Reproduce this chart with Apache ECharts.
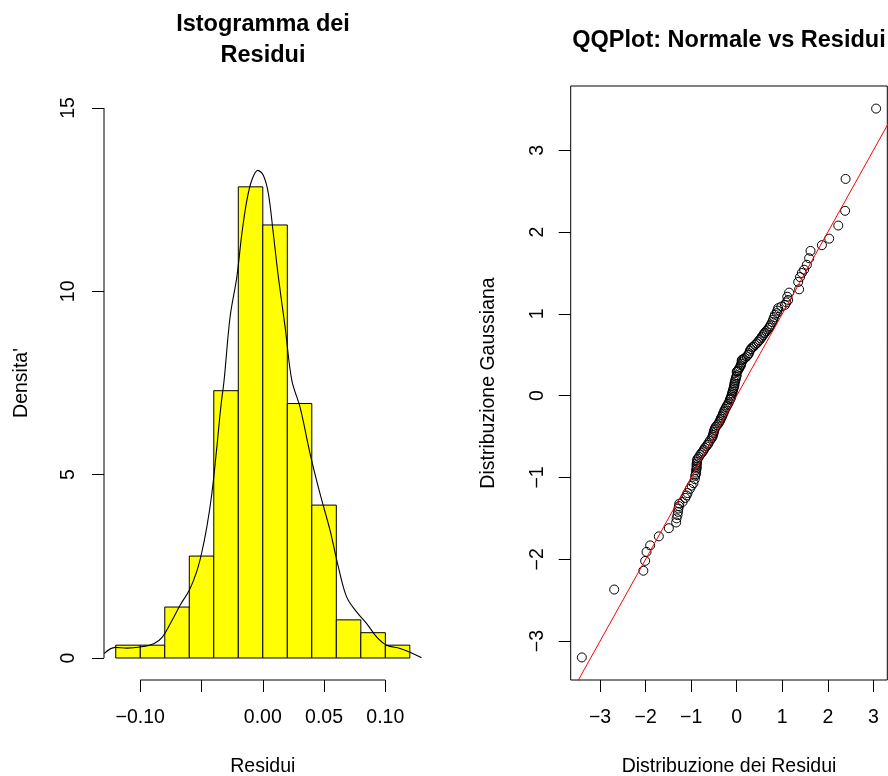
<!DOCTYPE html>
<html><head><meta charset="utf-8">
<script src="https://cdn.jsdelivr.net/npm/echarts@6/dist/echarts.min.js"></script>
<style>html,body{margin:0;padding:0;background:#fff}#c{width:888px;height:776px}</style>
</head><body><div id="c"></div>
<script>
// ---- Histogram data (density scale) ----
const binStarts = [-0.12,-0.10,-0.08,-0.06,-0.04,-0.02,0.00,0.02,0.04,0.06,0.08,0.10];
const binWidth = 0.02;
const densities = [0.35,0.35,1.39,2.78,7.29,12.85,11.81,6.94,4.17,1.04,0.69,0.35];
// kernel density curve
const curveX = [-0.1296,-0.1205,-0.111,-0.100,-0.089,-0.082,-0.074,-0.0675,-0.060,-0.054,-0.050,-0.0457,-0.0416,-0.0375,-0.0343,-0.0316,-0.0267,-0.0212,-0.0171,-0.0130,-0.0090,-0.0041,0.0005,0.0046,0.0086,0.0127,0.0182,0.0237,0.0304,0.0386,0.0467,0.0549,0.0617,0.0685,0.0767,0.0848,0.093,0.1011,0.112,0.120,0.1296];
const curveY = [0.12,0.29,0.27,0.30,0.39,0.57,1.03,1.44,1.85,2.35,2.85,3.57,4.48,5.75,6.84,7.57,9.30,10.39,11.57,12.48,13.03,13.30,13.16,12.66,11.57,10.39,9.03,7.57,6.84,5.57,4.48,3.48,2.48,1.66,1.25,0.94,0.57,0.35,0.26,0.16,0.01];
const histXTicks = [-0.10,-0.05,0.00,0.05,0.10];
const histXLabels = [-0.10,0.00,0.05,0.10];
const histYTicks = [0,5,10,15];
const histXMin = -0.1296, histXMax = 0.1296, histYMin = -0.6, histYMax = 15.6;

// ---- QQ plot data ----
const qqResidui = [-3.40,-2.69,-2.05,-2.01,-1.98,-1.90,-1.71,-1.49,-1.33,-1.32,
 -1.30,-1.29,-1.28,-1.27,-1.26,-1.19,-1.13,-1.10,-1.08,-1.03,-0.99,-0.95,-0.92,
 -0.91,-0.90,-0.89,-0.89,-0.88,-0.88,-0.88,-0.88,-0.87,-0.87,-0.86,-0.83,-0.80,-0.77,-0.74,-0.72,-0.70,-0.67,-0.64,-0.62,-0.59,-0.55,
 -0.53,-0.52,-0.51,-0.50,-0.49,-0.48,-0.46,-0.43,-0.40,-0.38,-0.36,-0.35,-0.33,-0.31,-0.30,-0.28,-0.27,-0.25,-0.23,-0.21,-0.19,-0.17,-0.15,-0.14,-0.13,-0.12,-0.11,
 -0.10,-0.09,-0.08,-0.07,-0.06,-0.05,-0.05,-0.04,-0.03,-0.02,-0.01,0.00,0.00,0.01,0.03,0.05,0.07,0.09,0.10,0.11,0.11,0.12,0.15,0.18,0.22,0.25,0.27,
 0.29,0.31,0.34,0.37,0.40,0.44,0.47,0.50,0.53,0.55,0.58,0.60,0.62,0.65,0.68,0.71,0.73,0.75,0.78,0.80,0.82,0.84,
 0.88,0.89,0.91,0.98,1.06,1.09,1.13,1.11,1.15,1.37,1.35,1.39,1.43,
 1.48,1.54,1.59,1.62,1.87,2.03,
 2.23,2.38,2.39,3.06];
const qqGauss = [-3.20,-2.37,-2.14,-2.02,-1.91,-1.83,-1.72,-1.62,-1.55,-1.50,
 -1.46,-1.42,-1.38,-1.35,-1.32,-1.30,-1.25,-1.22,-1.19,-1.14,-1.10,-1.07,-1.02,
 -0.98,-0.96,-0.94,-0.91,-0.89,-0.87,-0.85,-0.83,-0.81,-0.79,-0.77,-0.75,-0.72,-0.70,-0.68,-0.66,-0.64,-0.62,-0.60,-0.58,-0.55,-0.52,
 -0.50,-0.48,-0.46,-0.44,-0.42,-0.40,-0.38,-0.36,-0.34,-0.32,-0.30,-0.28,-0.26,-0.24,-0.22,-0.20,-0.18,-0.16,-0.14,-0.12,-0.10,-0.08,-0.05,-0.04,-0.03,-0.01,0.01,
 0.03,0.05,0.07,0.09,0.11,0.13,0.15,0.17,0.19,0.21,0.23,0.25,0.29,0.30,0.31,0.33,0.35,0.37,0.39,0.41,0.43,0.44,0.45,0.46,0.48,0.50,0.52,
 0.55,0.57,0.59,0.60,0.62,0.64,0.66,0.68,0.70,0.72,0.74,0.76,0.77,0.79,0.81,0.83,0.85,0.87,0.90,0.93,0.96,0.99,
 1.01,1.04,1.07,1.09,1.11,1.14,1.17,1.21,1.26,1.30,1.39,1.45,1.50,
 1.54,1.60,1.68,1.77,1.84,1.92,
 2.08,2.26,2.65,3.51];
const qqTicks = [-3,-2,-1,0,1,2,3];
const qqLineIntercept = 0.0, qqLineSlope = 1.0;
const qqXMin = -3.645, qqXMax = 3.306, qqYMin = -3.476, qqYMax = 3.786;

const FONT = "'Liberation Sans', Arial, Helvetica, sans-serif";
const minus = v => String(v).replace('-', '\u2212');
const fmt2 = v => minus(Number(v).toFixed(2));

const chart = echarts.init(document.getElementById('c'), null, {renderer: 'canvas'});
const lbl = {color: '#000', fontSize: 19.5, fontFamily: FONT};
const titleStyle = t => ({text: t, textAlign: 'center', textVerticalAlign: 'middle', fontSize: 23.5, fontWeight: 'bold', fontFamily: FONT, fill: '#000'});
const noLine = {show: false, onZero: false};
const tick = vals => ({show: true, customValues: vals, length: 12, lineStyle: {color: '#000', width: 1}});

const option = {
  animation: false,
  backgroundColor: '#fff',
  graphic: [
    {type: 'text', x: 263, y: 25, style: titleStyle('Istogramma dei')},
    {type: 'text', x: 263, y: 56, style: titleStyle('Residui')},
    {type: 'text', x: 729, y: 41, style: titleStyle('QQPlot: Normale vs Residui')}
  ],
  grid: [
    {left: 104, top: 86, width: 317.6, height: 594, outerBoundsMode: 'none', containLabel: false},
    {left: 570.7, top: 86, width: 316.6, height: 594, outerBoundsMode: 'none', containLabel: false,
     show: true, borderColor: '#000', borderWidth: 1, backgroundColor: 'transparent'}
  ],
  xAxis: [
    {type: 'value', gridIndex: 0, min: histXMin, max: histXMax,
     axisLine: noLine, splitLine: {show: false}, axisTick: tick(histXTicks),
     axisLabel: Object.assign({customValues: histXLabels, margin: 28, formatter: fmt2}, lbl),
     name: 'Residui', nameLocation: 'middle', nameGap: 77, nameTextStyle: lbl},
    {type: 'value', gridIndex: 1, min: qqXMin, max: qqXMax,
     axisLine: noLine, splitLine: {show: false}, axisTick: tick(qqTicks),
     axisLabel: Object.assign({customValues: qqTicks, margin: 28, formatter: minus}, lbl),
     name: 'Distribuzione dei Residui', nameLocation: 'middle', nameGap: 77, nameTextStyle: lbl}
  ],
  yAxis: [
    {type: 'value', gridIndex: 0, min: histYMin, max: histYMax,
     axisLine: noLine, splitLine: {show: false}, axisTick: tick(histYTicks),
     axisLabel: Object.assign({customValues: histYTicks, margin: 25, rotate: 90}, lbl),
     name: "Densita'", nameLocation: 'middle', nameGap: 72, nameTextStyle: lbl},
    {type: 'value', gridIndex: 1, min: qqYMin, max: qqYMax,
     axisLine: noLine, splitLine: {show: false}, axisTick: tick(qqTicks),
     axisLabel: Object.assign({customValues: qqTicks, margin: 23, rotate: 90, formatter: minus}, lbl),
     name: 'Distribuzione Gaussiana', nameLocation: 'middle', nameGap: 72, nameTextStyle: lbl}
  ],
  series: [
    {type: 'custom', xAxisIndex: 0, yAxisIndex: 0, clip: false,
     data: binStarts.map((s, i) => [s, s + binWidth, densities[i]]),
     encode: {x: [0, 1], y: 2},
     renderItem: function (params, api) {
       const p0 = api.coord([api.value(0), 0]);
       const p1 = api.coord([api.value(1), api.value(2)]);
       return {type: 'rect', shape: {x: p0[0], y: p1[1], width: p1[0] - p0[0], height: p0[1] - p1[1]},
               style: {fill: '#ffff00', stroke: '#000', lineWidth: 1}};
     }},
    {type: 'line', xAxisIndex: 0, yAxisIndex: 0, data: curveX.map((x, i) => [x, curveY[i]]),
     smooth: 0.35, showSymbol: false, symbol: 'none', lineStyle: {color: '#000', width: 1.1}, silent: true},
    // R-style axis lines spanning only the tick range
    {type: 'line', xAxisIndex: 0, yAxisIndex: 0, clip: false, symbol: 'none', silent: true,
     data: [[histXTicks[0], histYMin], [histXTicks[histXTicks.length - 1], histYMin]], lineStyle: {color: '#000', width: 1}},
    {type: 'line', xAxisIndex: 0, yAxisIndex: 0, clip: false, symbol: 'none', silent: true,
     data: [[histXMin, histYTicks[0]], [histXMin, histYTicks[histYTicks.length - 1]]], lineStyle: {color: '#000', width: 1}},
    {type: 'scatter', xAxisIndex: 1, yAxisIndex: 1, symbol: 'circle', symbolSize: 9, silent: true,
     data: qqResidui.map((x, i) => [x, qqGauss[i]]),
     itemStyle: {color: 'rgba(0,0,0,0)', borderColor: '#000', borderWidth: 1, opacity: 1}},
    {type: 'line', xAxisIndex: 1, yAxisIndex: 1, symbol: 'none', silent: true, clip: true,
     data: [[-4, qqLineIntercept + qqLineSlope * -4], [4, qqLineIntercept + qqLineSlope * 4]],
     lineStyle: {color: '#ff0000', width: 1}}
  ]
};
chart.setOption(option);
</script>
</body></html>
